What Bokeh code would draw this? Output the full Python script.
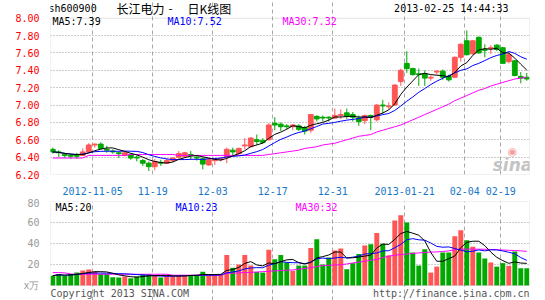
import numpy as np
import pandas as pd
from bokeh.plotting import figure
from bokeh.layouts import column
from bokeh.models import Range1d, FixedTicker, Label, BoxAnnotation
from bokeh.embed import file_html
from bokeh.resources import INLINE

# ---------------- data ----------------
tick_idx = [7, 17, 27, 37, 47, 59, 69, 75]
tick_labels = ["2012-11-05", "11-19", "12-03", "12-17", "12-31", "2013-01-21", "02-04", "02-19"]

open_ = [6.49, 6.46, 6.43, 6.42, 6.42, 6.42, 6.46, 6.54, 6.55, 6.49,
         6.47, 6.45, 6.42, 6.43, 6.40, 6.36, 6.33, 6.29, 6.34, 6.33,
         6.36, 6.40, 6.41, 6.43, 6.40, 6.38, 6.31, 6.36, 6.37, 6.40,
         6.48, 6.44, 6.53, 6.52, 6.60, 6.59, 6.60, 6.79, 6.78, 6.76,
         6.75, 6.76, 6.74, 6.71, 6.87, 6.86, 6.86, 6.85, 6.88, 6.91,
         6.89, 6.85, 6.82, 6.88, 6.83, 7.00, 6.98, 7.00, 7.27, 7.48,
         7.42, 7.36, 7.36, 7.31, 7.38, 7.39, 7.33, 7.32, 7.55, 7.74,
         7.59, 7.78, 7.64, 7.65, 7.69, 7.66, 7.50, 7.51, 7.33, 7.32]
high = [6.51, 6.48, 6.44, 6.43, 6.45, 6.50, 6.56, 6.56, 6.57, 6.53,
        6.49, 6.46, 6.46, 6.44, 6.42, 6.38, 6.35, 6.38, 6.37, 6.39,
        6.40, 6.47, 6.46, 6.47, 6.42, 6.40, 6.39, 6.39, 6.40, 6.51,
        6.51, 6.51, 6.62, 6.63, 6.66, 6.62, 6.79, 6.86, 6.80, 6.78,
        6.78, 6.78, 6.76, 6.89, 6.88, 6.88, 6.87, 6.96, 6.95, 6.96,
        6.92, 6.88, 6.89, 6.89, 7.01, 7.06, 7.03, 7.24, 7.42, 7.62,
        7.43, 7.42, 7.40, 7.34, 7.40, 7.41, 7.35, 7.56, 7.71, 7.86,
        7.75, 7.79, 7.70, 7.69, 7.70, 7.67, 7.61, 7.52, 7.38, 7.37]
low = [6.44, 6.40, 6.39, 6.38, 6.38, 6.41, 6.45, 6.51, 6.49, 6.45,
       6.44, 6.39, 6.41, 6.37, 6.35, 6.30, 6.24, 6.25, 6.30, 6.32,
       6.34, 6.38, 6.39, 6.37, 6.36, 6.26, 6.30, 6.31, 6.35, 6.33,
       6.42, 6.43, 6.49, 6.51, 6.54, 6.55, 6.59, 6.71, 6.70, 6.72,
       6.71, 6.70, 6.66, 6.68, 6.81, 6.81, 6.81, 6.84, 6.84, 6.84,
       6.81, 6.76, 6.78, 6.71, 6.81, 6.90, 6.95, 6.99, 7.22, 7.37,
       7.34, 7.22, 7.22, 7.28, 7.35, 7.29, 7.27, 7.31, 7.50, 7.57,
       7.58, 7.59, 7.55, 7.59, 7.62, 7.48, 7.48, 7.33, 7.25, 7.28]
close = [6.46, 6.45, 6.42, 6.41, 6.41, 6.46, 6.54, 6.55, 6.50, 6.48,
         6.46, 6.44, 6.45, 6.39, 6.39, 6.33, 6.29, 6.35, 6.33, 6.36,
         6.39, 6.44, 6.45, 6.42, 6.39, 6.32, 6.37, 6.37, 6.38, 6.49,
         6.46, 6.50, 6.54, 6.62, 6.58, 6.57, 6.77, 6.77, 6.75, 6.75,
         6.77, 6.72, 6.70, 6.89, 6.84, 6.85, 6.85, 6.88, 6.89, 6.87,
         6.86, 6.81, 6.88, 6.86, 7.00, 6.99, 6.99, 7.23, 7.40, 7.42,
         7.35, 7.35, 7.31, 7.32, 7.39, 7.32, 7.29, 7.55, 7.70, 7.58,
         7.74, 7.60, 7.63, 7.66, 7.64, 7.48, 7.58, 7.34, 7.31, 7.30]
ma30 = [6.39, 6.39, 6.39, 6.39, 6.39, 6.39, 6.42, 6.42, 6.42, 6.42,
        6.42, 6.42, 6.42, 6.43, 6.43, 6.43, 6.43, 6.43, 6.43, 6.43,
        6.43, 6.42, 6.42, 6.42, 6.42, 6.42, 6.42, 6.42, 6.42, 6.42,
        6.42, 6.42, 6.42, 6.42, 6.42, 6.42, 6.43, 6.44, 6.45, 6.46,
        6.47, 6.48, 6.50, 6.51, 6.52, 6.54, 6.55, 6.56, 6.58, 6.60,
        6.62, 6.64, 6.65, 6.66, 6.69, 6.71, 6.73, 6.75, 6.77, 6.80,
        6.83, 6.86, 6.89, 6.92, 6.95, 6.98, 7.01, 7.05, 7.08, 7.11,
        7.14, 7.17, 7.19, 7.22, 7.24, 7.26, 7.28, 7.30, 7.31, 7.32]
volume = [9.4, 11.0, 9.0, 11.0, 12.3, 14.3, 15.2, 13.0, 11.0, 11.0,
          7.9, 7.6, 8.5, 7.0, 8.5, 11.0, 11.0, 9.5, 7.6, 9.0,
          9.0, 10.0, 10.0, 9.8, 9.8, 13.0, 9.8, 10.0, 10.4, 29.0,
          16.8, 20.0, 29.0, 19.0, 13.0, 12.3, 34.0, 25.0, 29.0, 22.0,
          14.0, 19.0, 19.0, 35.6, 44.0, 20.0, 26.7, 33.3, 35.3, 15.5,
          21.3, 30.0, 38.0, 39.4, 50.0, 39.7, 28.6, 62.0, 67.0, 60.0,
          31.5, 19.0, 34.6, 12.3, 18.0, 31.5, 31.5, 46.8, 52.5, 43.0,
          37.0, 31.5, 25.7, 21.9, 18.0, 21.3, 18.7, 32.4, 16.5, 16.5]
vol_ma30 = [12.3, 12.3, 12.0, 11.0, 10.7, 10.7, 10.7, 10.7, 10.7, 10.7,
            10.7, 10.7, 10.7, 10.7, 10.7, 10.7, 10.7, 10.7, 10.7, 10.7,
            9.8, 9.8, 9.8, 9.8, 9.8, 9.8, 9.8, 9.8, 9.8, 11.5,
            11.7, 12.0, 12.3, 12.5, 12.8, 13.2, 13.5, 13.9, 14.2, 14.6,
            14.8, 15.5, 16.2, 17.0, 18.0, 19.0, 19.2, 19.5, 19.8, 20.5,
            21.5, 22.3, 23.0, 24.0, 24.8, 26.5, 28.0, 28.8, 29.5, 30.0,
            30.5, 31.0, 31.5, 31.8, 32.0, 32.4, 33.0, 34.0, 34.6, 34.6,
            34.6, 34.6, 34.5, 34.3, 34.0, 33.8, 33.5, 33.3, 33.0, 32.5]
price_ticks = [6.2, 6.4, 6.6, 6.8, 7.0, 7.2, 7.4, 7.6, 7.8, 8.0]
vol_ticks = [0, 20, 40, 60, 80]

# ---------------- derived ----------------
x = np.arange(len(close))
o = np.array(open_); c = np.array(close)
up = c >= o
RED, GREEN = "#FF5555", "#00A800"
colors = [RED if u else GREEN for u in up]
ma5 = pd.Series(close).rolling(5, min_periods=1).mean()
ma10 = pd.Series(close).rolling(10, min_periods=1).mean()
vma5 = pd.Series(volume).rolling(5, min_periods=1).mean()
vma10 = pd.Series(volume).rolling(10, min_periods=1).mean()
tick_pos = [i - 0.35 for i in tick_idx]

MONO = "DejaVu Sans Mono"
FRAME = "#A0A0A0"
xr = Range1d(-0.38, 79.45)
p_lo, p_hi = price_ticks[0], price_ticks[-1]
v_lo, v_hi = vol_ticks[0], vol_ticks[-1]


def style(p, ylo, yhi):
    p.outline_line_color = None
    for ax in p.yaxis:
        ax.axis_line_color = None
        ax.major_tick_line_color = None
        ax.minor_tick_line_color = None
        ax.major_label_text_font = MONO
        ax.major_label_text_font_size = "10px"
        ax.major_label_standoff = 5
    p.xgrid.ticker = FixedTicker(ticks=tick_pos)
    p.xgrid.grid_line_color = "#A8A8A8"
    p.xgrid.grid_line_dash = "4 3"
    p.xgrid.bounds = (ylo, yhi)
    p.ygrid.grid_line_color = "#999999"
    p.ygrid.grid_line_dash = "1 2"
    p.add_layout(BoxAnnotation(left=xr.start, right=xr.end, bottom=ylo, top=yhi,
                               fill_alpha=0, line_color=FRAME, line_width=1))


def lab(p, text, xs, ys, color="#000000", align="left", size="10px", font=MONO, style="normal"):
    p.add_layout(Label(x=xs, y=ys, x_units="screen", y_units="screen", text=text,
                       text_color=color, text_align=align, text_baseline="middle",
                       text_font=font, text_font_size=size, text_font_style=style))


# ---------------- price panel ----------------
p1 = figure(width=545, height=197, x_range=xr, y_range=Range1d(6.2, 8.204),
            output_backend="svg", toolbar_location=None,
            min_border_left=50, min_border_right=16, min_border_top=0, min_border_bottom=20,
            background_fill_color="white", border_fill_color="white")
style(p1, p_lo, p_hi)
p1.yaxis.ticker = FixedTicker(ticks=price_ticks)
p1.yaxis.major_label_overrides = {t: f"{t:.2f}" for t in price_ticks}
p1.yaxis.major_label_text_color = "#FF0000"
p1.ygrid.ticker = FixedTicker(ticks=price_ticks[1:-1])
p1.xaxis.ticker = FixedTicker(ticks=tick_pos)
p1.xaxis.major_label_overrides = dict(zip(tick_pos, tick_labels))
p1.xaxis.axis_line_color = None
p1.xaxis.major_tick_line_color = None
p1.xaxis.minor_tick_line_color = None
p1.xaxis.major_label_text_font = MONO
p1.xaxis.major_label_text_font_size = "10px"
p1.xaxis.major_label_text_color = "#1878C8"
p1.xaxis.major_label_standoff = 6

p1.segment(x0=x, y0=low, x1=x, y1=high, line_color=colors, line_width=1)
p1.vbar(x=x, width=0.8, top=np.maximum(o, c), bottom=np.minimum(o, c),
        fill_color=colors, line_color=colors, line_width=1)
p1.line(x, ma30, line_color="#FF00FF", line_width=1)
p1.line(x, ma10, line_color="#0000FF", line_width=1)
p1.line(x, ma5, line_color="#000000", line_width=1)

# frame: left at canvas x 50, bottom at canvas y 177
lab(p1, "sh600900", -2, 166)
lab(p1, "长江电力", 66, 166, font="Noto Sans CJK SC", size="12px")
lab(p1, "-", 120, 166, align="center", font="Noto Sans CJK SC", size="12px")
lab(p1, "日K线图", 137, 166, font="Noto Sans CJK SC", size="12px")
lab(p1, "2013-02-25 14:44:33", 458, 166, align="right")
lab(p1, "MA5:7.39", 2, 153)
lab(p1, "MA10:7.52", 117, 153, color="#0000FF")
lab(p1, "MA30:7.32", 232, 153, color="#FF00FF")
lab(p1, "sina", 462, 10, color="#C4C4C4", align="center", size="17px", font="DejaVu Sans", style="bold italic")
lab(p1, "◉", 462, 23, color="#F2A0A0", align="center", size="11px", font="DejaVu Sans")

# ---------------- volume panel ----------------
p2 = figure(width=545, height=103, x_range=xr, y_range=Range1d(-14.29, 80),
            output_backend="svg", toolbar_location=None,
            min_border_left=50, min_border_right=16, min_border_top=4, min_border_bottom=0,
            background_fill_color="white", border_fill_color="white")
style(p2, v_lo, v_hi)
p2.xaxis.ticker = FixedTicker(ticks=tick_pos)
p2.xaxis.visible = False
p2.yaxis.ticker = FixedTicker(ticks=vol_ticks)
p2.yaxis.major_label_overrides = {0: "x万"}
p2.yaxis.major_label_text_color = "#999999"
p2.ygrid.ticker = FixedTicker(ticks=vol_ticks[1:-1])

p2.vbar(x=x, width=0.82, top=volume, bottom=0, fill_color=colors, line_color=None)
p2.line(x, vol_ma30, line_color="#FF00FF", line_width=1)
p2.line(x, vma10, line_color="#0000FF", line_width=1)
p2.line(x, vma5, line_color="#000000", line_width=1)

# frame: bottom at canvas y 300
lab(p2, "MA5:20", 5, 93)
lab(p2, "MA10:23", 125, 93, color="#0000FF")
lab(p2, "MA30:32", 245, 93, color="#FF00FF")
lab(p2, "Copyright 2013 SINA.COM", 0, 7, color="#555555")
lab(p2, "http://finance.sina.com.cn", 479, 7, color="#555555", align="right")

layout = column(p1, p2, spacing=0)
open("out.html", "w").write(file_html(layout, INLINE))
